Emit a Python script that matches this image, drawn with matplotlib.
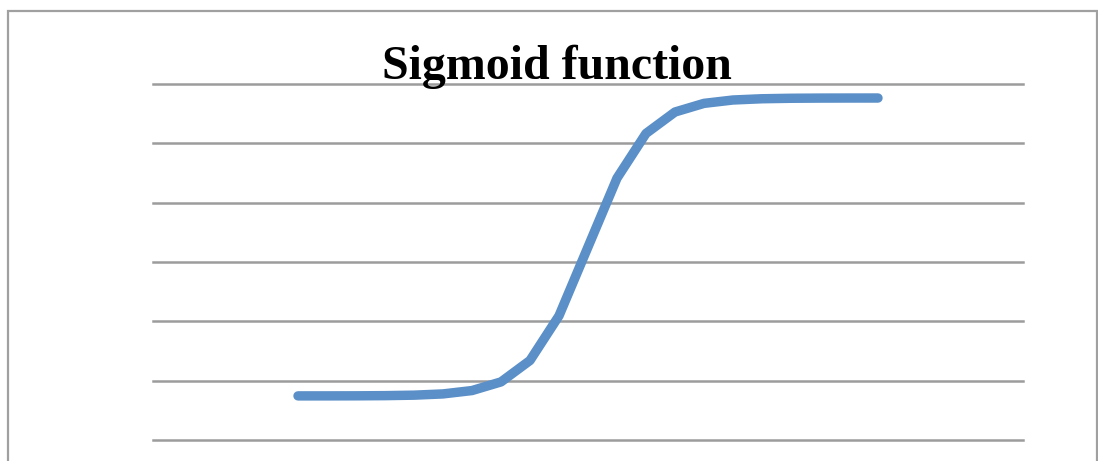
import matplotlib.pyplot as plt
import numpy as np
from matplotlib.patches import Rectangle

# sigmoid sampled at integer inputs
xs = [-10, -9, -8, -7, -6, -5, -4, -3, -2, -1, 0, 1, 2, 3, 4, 5, 6, 7, 8, 9, 10]
ys = [0.00005, 0.0001, 0.0003, 0.0009, 0.0025, 0.0067, 0.018, 0.047, 0.119, 0.269, 0.5,
      0.731, 0.881, 0.953, 0.982, 0.9933, 0.9975, 0.9991, 0.9997, 0.9999, 0.99995]
title = "Sigmoid function"

W, H = 1098, 461
fig = plt.figure(figsize=(W / 100, H / 100), dpi=100)
fig.patch.set_facecolor("white")

# outer chart border (bottom edge runs off the canvas)
fig.patches.append(Rectangle((7.5 / W, -0.2), (1097 - 7.5) / W, 1.2 - 11 / H,
                             transform=fig.transFigure, fill=False,
                             edgecolor="#a0a0a0", linewidth=1.6))

ax = fig.add_axes([153 / W, (H - 440) / H, (1023 - 153) / W, (440 - 84) / H])
ylo, yhi = -0.148, 1.047
ax.set_xlim(-15, 15)
ax.set_ylim(ylo, yhi)
ax.set_yticks(np.linspace(ylo, yhi, 7))
ax.set_xticks([])
ax.tick_params(left=False, labelleft=False)
for s in ax.spines.values():
    s.set_visible(False)
ax.grid(axis="y", color="#9c9c9c", linewidth=1.8)
ax.set_axisbelow(True)
# keep the edge gridlines at full width
for gl in ax.get_ygridlines():
    gl.set_clip_on(False)

ax.plot(xs, ys, color="#5b8fc7", linewidth=6.8, solid_capstyle="round",
        solid_joinstyle="round", clip_on=False)

fig.text(557 / W, (H - 79) / H, title, ha="center", va="baseline",
         fontsize=34.5, fontweight="bold", family="Liberation Serif")

fig.savefig("out.png", dpi=100)
